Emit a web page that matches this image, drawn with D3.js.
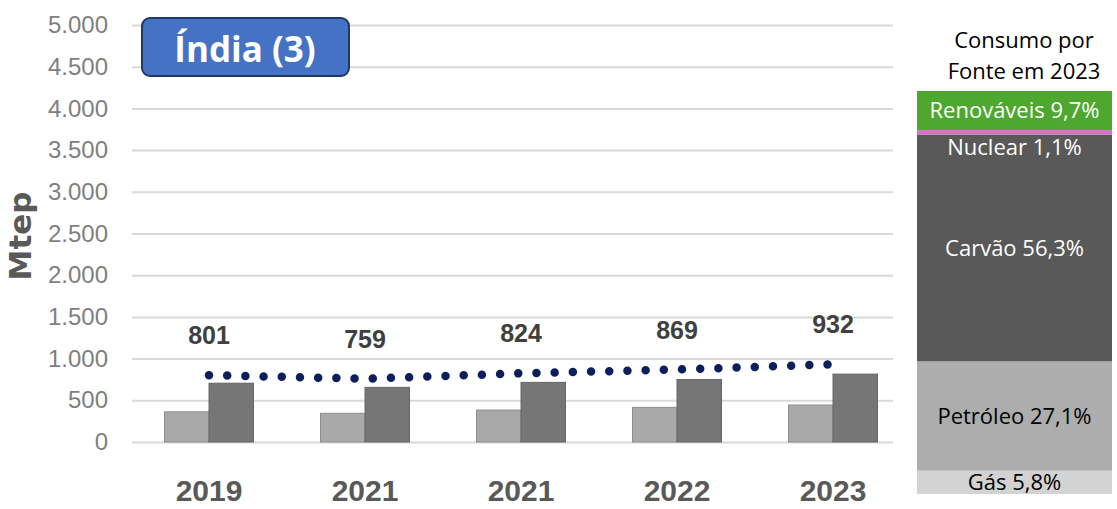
<!DOCTYPE html>
<html lang="pt">
<head>
<meta charset="utf-8">
<script src="https://cdn.jsdelivr.net/npm/d3@7"></script>
<style>
  html, body { margin: 0; padding: 0; background: #ffffff; }
  svg { display: block; }
</style>
</head>
<body>
<svg id="chart" width="1117" height="509"></svg>
<script>
// Consumo de energia primária da Índia (Mtep)
const years = ["2019", "2021", "2021", "2022", "2023"];
const seriesLight = [362, 344, 383, 415, 443];
const seriesDark = [705, 655, 715, 750, 814];
const totals = [801, 759, 824, 869, 932];
const yTicks = [0, 500, 1000, 1500, 2000, 2500, 3000, 3500, 4000, 4500, 5000];

// Matriz por fonte em 2023 (%), de baixo para cima
const sources = ["Gás", "Petróleo", "Carvão", "Nuclear", "Renováveis"];
const shares = [5.8, 27.1, 56.3, 1.1, 9.7];
const sourceColors = ["#d3d3d3", "#adadad", "#595959", "#d86ecc", "#4ea72e"];
const sourceTextColors = ["#000000", "#000000", "#ffffff", "#ffffff", "#ffffff"];

const svg = d3.select("#chart");
const locale = d3.formatLocale({ decimal: ",", thousands: ".", grouping: [3], currency: ["R$", ""] });
const fmtInt = locale.format(",");
const fmtPct = locale.format(".1f");

// ---- Gráfico de colunas ----
const plotLeft = 132, plotRight = 893;
const y = d3.scaleLinear().domain([0, 5000]).range([442, 25]);
const x = d3.scaleBand().domain(d3.range(years.length)).range([131, 911]);
const inner = d3.scaleBand().domain(["light", "dark"]).range([0, x.bandwidth()]).paddingOuter(0.753);

// eixo y com linhas de grade
const yAxis = svg.append("g")
  .attr("transform", `translate(${plotLeft},0)`)
  .call(d3.axisLeft(y).tickValues(yTicks).tickFormat(fmtInt)
    .tickSize(-(plotRight - plotLeft)).tickPadding(24));
yAxis.select(".domain").remove();
yAxis.selectAll(".tick line").attr("stroke", "#d9d9d9").attr("stroke-width", 2);
yAxis.selectAll(".tick text")
  .attr("fill", "#7f7f7f")
  .style("font-family", "'Liberation Sans', Arial, sans-serif")
  .style("font-size", "24px");

// título do eixo y
svg.append("text")
  .attr("transform", "translate(31,236) rotate(-90)")
  .attr("text-anchor", "middle")
  .attr("fill", "#595959")
  .style("font-family", "'DejaVu Sans', sans-serif")
  .style("font-weight", "bold")
  .style("font-size", "31px")
  .text("Mtep");

// rótulos dos anos
const xAxis = svg.append("g")
  .attr("transform", `translate(0,${y(0)})`)
  .call(d3.axisBottom(x).tickFormat(i => years[i]).tickSize(0).tickPadding(38));
xAxis.select(".domain").remove();
xAxis.selectAll(".tick text")
  .attr("fill", "#595959")
  .style("font-family", "'Liberation Sans', Arial, sans-serif")
  .style("font-weight", "bold")
  .style("font-size", "30px");

// colunas
const groups = svg.append("g").selectAll("g")
  .data(years.map((yr, i) => ({ i, light: seriesLight[i], dark: seriesDark[i] })))
  .join("g")
  .attr("transform", d => `translate(${x(d.i)},0)`);

groups.append("rect")
  .attr("x", inner("light")).attr("width", inner.bandwidth())
  .attr("y", d => y(d.light)).attr("height", d => y(0) - y(d.light))
  .attr("fill", "#a9a9a9").attr("stroke", "#8e8e8e").attr("stroke-width", 1);

groups.append("rect")
  .attr("x", inner("dark")).attr("width", inner.bandwidth())
  .attr("y", d => y(d.dark)).attr("height", d => y(0) - y(d.dark))
  .attr("fill", "#767676").attr("stroke", "#666666").attr("stroke-width", 1);

// linha pontilhada do consumo total
const centers = totals.map((v, i) => [x(i) + x.bandwidth() / 2, y(v)]);
svg.append("path")
  .attr("d", d3.line()(centers))
  .attr("fill", "none")
  .attr("stroke", "#0b1f5c")
  .attr("stroke-width", 8.5)
  .attr("stroke-linecap", "round")
  .attr("stroke-dasharray", "0 18.2");

// rótulos de total
svg.append("g").selectAll("text")
  .data(totals)
  .join("text")
  .attr("x", (d, i) => x(i) + x.bandwidth() / 2)
  .attr("y", d => y(d) - 31)
  .attr("text-anchor", "middle")
  .attr("fill", "#404040")
  .style("font-family", "'Liberation Sans', Arial, sans-serif")
  .style("font-weight", "bold")
  .style("font-size", "25px")
  .text(d => fmtInt(d));

// caixa de título
const titleG = svg.append("g");
titleG.append("rect")
  .attr("x", 142).attr("y", 18).attr("width", 207).attr("height", 58)
  .attr("rx", 8)
  .attr("fill", "#4472c4").attr("stroke", "#1f3864").attr("stroke-width", 2);
titleG.append("text")
  .attr("x", 245).attr("y", 62)
  .attr("text-anchor", "middle")
  .attr("fill", "#ffffff")
  .style("font-family", "'Open Sans', sans-serif")
  .style("font-weight", "bold")
  .style("font-size", "35px")
  .text("Índia (3)");

// ---- Coluna empilhada por fonte ----
const sx0 = 917, sx1 = 1112;
const s = d3.scaleLinear().domain([0, 100]).range([494, 91]);
const cum = d3.cumsum(shares);
const segs = sources.map((name, i) => ({
  name, share: shares[i], y0: cum[i] - shares[i], y1: cum[i],
  color: sourceColors[i], textColor: sourceTextColors[i]
}));

const stackG = svg.append("g");
stackG.selectAll("rect")
  .data(segs)
  .join("rect")
  .attr("x", sx0).attr("width", sx1 - sx0)
  .attr("y", d => s(d.y1)).attr("height", d => s(d.y0) - s(d.y1))
  .attr("fill", d => d.color);

// a fatia nuclear é fina demais: o rótulo fica logo abaixo dela
stackG.selectAll("text")
  .data(segs)
  .join("text")
  .attr("x", (sx0 + sx1) / 2)
  .attr("y", d => d.name === "Nuclear" ? s(d.y0) + 13 : (s(d.y0) + s(d.y1)) / 2)
  .attr("dy", "0.36em")
  .attr("text-anchor", "middle")
  .attr("fill", d => d.textColor)
  .style("font-family", "'Open Sans', sans-serif")
  .style("font-size", "22px")
  .text(d => `${d.name} ${fmtPct(d.share)}%`);

svg.append("text")
  .attr("x", 1024).attr("text-anchor", "middle")
  .attr("fill", "#000000")
  .style("font-family", "'Open Sans', sans-serif")
  .style("font-size", "22px")
  .selectAll("tspan")
  .data(["Consumo por", "Fonte em 2023"])
  .join("tspan")
  .attr("x", 1024)
  .attr("y", (d, i) => 48 + i * 31)
  .text(d => d);
</script>
</body>
</html>
